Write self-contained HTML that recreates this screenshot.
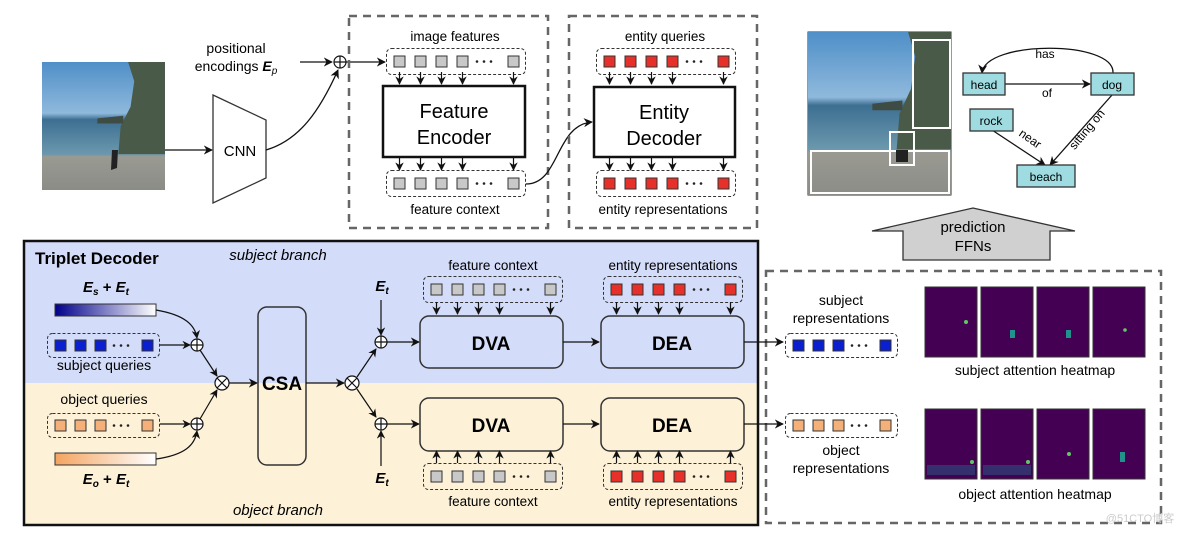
<!DOCTYPE html>
<html><head><meta charset="utf-8"><style>
html,body{margin:0;padding:0;background:#fff}
svg{display:block;font-family:"Liberation Sans",sans-serif}
</style></head><body>
<svg width="1184" height="533" viewBox="0 0 1184 533" xmlns="http://www.w3.org/2000/svg">
<defs>
<marker id="ar" viewBox="0 0 10 10" refX="9" refY="5" markerWidth="7" markerHeight="7" orient="auto-start-reverse"><path d="M0,0L10,5L0,10L3,5z" fill="#111"/></marker>
<linearGradient id="gb" x1="0" x2="1"><stop offset="0" stop-color="#00008b"/><stop offset="1" stop-color="#fff"/></linearGradient>
<linearGradient id="go" x1="0" x2="1"><stop offset="0" stop-color="#f4a460"/><stop offset="1" stop-color="#fff"/></linearGradient>
<linearGradient id="sky" x1="0" y1="0" x2="0" y2="1"><stop offset="0" stop-color="#4f8fc8"/><stop offset="0.4" stop-color="#8fb9dc"/><stop offset="0.45" stop-color="#3d6f92"/><stop offset="0.72" stop-color="#6b98ad"/><stop offset="0.74" stop-color="#9a9a92"/><stop offset="1" stop-color="#8a8c86"/></linearGradient>
<g id="sqG"><rect width="11" height="11" fill="#c8c8c8" stroke="#333"/></g>
<g id="sqR"><rect width="11" height="11" fill="#e8302a" stroke="#333"/></g>
<g id="sqB"><rect width="11" height="11" fill="#0a1fd0" stroke="#333"/></g>
<g id="sqO"><rect width="11" height="11" fill="#f5b07a" stroke="#333"/></g>
<g id="dots" fill="#222"><circle cx="0" cy="0" r="1.3"/><circle cx="7" cy="0" r="1.3"/><circle cx="14" cy="0" r="1.3"/></g>
<g id="rowG"><rect x="0.5" y="0.5" width="139" height="26" rx="5" fill="none" stroke="#333" stroke-dasharray="3,2"/><use href="#sqG" x="8" y="8"/><use href="#sqG" x="29" y="8"/><use href="#sqG" x="50" y="8"/><use href="#sqG" x="71" y="8"/><use href="#dots" x="91" y="13.5"/><use href="#sqG" x="122" y="8"/></g>
<g id="rowR"><rect x="0.5" y="0.5" width="139" height="26" rx="5" fill="none" stroke="#333" stroke-dasharray="3,2"/><use href="#sqR" x="8" y="8"/><use href="#sqR" x="29" y="8"/><use href="#sqR" x="50" y="8"/><use href="#sqR" x="71" y="8"/><use href="#dots" x="91" y="13.5"/><use href="#sqR" x="122" y="8"/></g>
<g id="rowB"><rect x="0.5" y="0.5" width="112" height="24" rx="5" fill="none" stroke="#333" stroke-dasharray="3,2"/><use href="#sqB" x="8" y="7"/><use href="#sqB" x="28" y="7"/><use href="#sqB" x="48" y="7"/><use href="#dots" x="67" y="12.5"/><use href="#sqB" x="95" y="7"/></g>
<g id="rowO"><rect x="0.5" y="0.5" width="112" height="24" rx="5" fill="none" stroke="#333" stroke-dasharray="3,2"/><use href="#sqO" x="8" y="7"/><use href="#sqO" x="28" y="7"/><use href="#sqO" x="48" y="7"/><use href="#dots" x="67" y="12.5"/><use href="#sqO" x="95" y="7"/></g>
<g id="dn" stroke="#111" stroke-width="1.2" marker-end="url(#ar)"><line x1="13.5" y1="0" x2="13.5" y2="12"/><line x1="34.5" y1="0" x2="34.5" y2="12"/><line x1="55.5" y1="0" x2="55.5" y2="12"/><line x1="76.5" y1="0" x2="76.5" y2="12"/><line x1="127.5" y1="0" x2="127.5" y2="12"/></g>
<g id="up" stroke="#111" stroke-width="1.2" marker-end="url(#ar)"><line x1="13.5" y1="12" x2="13.5" y2="0"/><line x1="34.5" y1="12" x2="34.5" y2="0"/><line x1="55.5" y1="12" x2="55.5" y2="0"/><line x1="76.5" y1="12" x2="76.5" y2="0"/><line x1="127.5" y1="12" x2="127.5" y2="0"/></g>
<g id="plus"><circle r="6" fill="#fff" stroke="#111" stroke-width="1.2"/><path d="M-6,0H6M0,-6V6" stroke="#111" stroke-width="1.2"/></g>
<g id="times"><circle r="7" fill="#fff" stroke="#111" stroke-width="1.2"/><path d="M-5,-5L5,5M-5,5L5,-5" stroke="#111" stroke-width="1.2"/></g>
<g id="photo"><rect width="100" height="100" fill="url(#sky)"/><path d="M70,0 L100,0 L100,72 L62,72 L64,50 L72,35 L75,15z" fill="#4a5a48"/><path d="M45,44 L66,42 L66,48 L45,48z" fill="#3e4c44"/></g>
<linearGradient id="hm" x1="0" y1="0" x2="0" y2="1"><stop offset="0" stop-color="#440154"/><stop offset="1" stop-color="#440154"/></linearGradient>
</defs>

<!-- top-left photo -->
<rect x="42" y="62" width="123" height="128" fill="#888"/>
<use href="#photo" transform="translate(42,62) scale(1.23,1.28)"/>
<path d="M112,150 L118,150 L117,168 L111,170z" fill="#222"/>
<line x1="165" y1="150" x2="212" y2="150" stroke="#111" stroke-width="1.3" marker-end="url(#ar)"/>
<path d="M213,95 L266,120 L266,178 L213,203z" fill="#fff" stroke="#333" stroke-width="1.3"/>
<text x="240" y="156" font-size="15" text-anchor="middle">CNN</text>
<text x="236" y="53" font-size="14" text-anchor="middle">positional</text>
<text x="236" y="71" font-size="14" text-anchor="middle">encodings <tspan font-weight="bold" font-style="italic">E</tspan><tspan font-style="italic" font-size="10" dy="3">p</tspan></text>
<line x1="300" y1="62" x2="332" y2="62" stroke="#111" stroke-width="1.3" marker-end="url(#ar)"/>
<path d="M266,150 C300,140 320,110 338,70" fill="none" stroke="#111" stroke-width="1.3" marker-end="url(#ar)"/>
<use href="#plus" x="340" y="62"/>
<line x1="346" y1="62" x2="385" y2="62" stroke="#111" stroke-width="1.3" marker-end="url(#ar)"/>

<!-- encoder box -->
<rect x="349" y="16" width="199" height="212" fill="none" stroke="#666" stroke-width="2.5" stroke-dasharray="8,6"/>
<text x="455" y="41" font-size="13.5" text-anchor="middle">image features</text>
<use href="#rowG" x="386" y="48"/>
<use href="#dn" x="386" y="72"/>
<rect x="383" y="86" width="142" height="71" fill="#fff" stroke="#111" stroke-width="2.5"/>
<text x="454" y="118" font-size="20" text-anchor="middle">Feature</text>
<text x="454" y="144" font-size="20" text-anchor="middle">Encoder</text>
<use href="#dn" x="386" y="158"/>
<use href="#rowG" x="386" y="170"/>
<text x="455" y="214" font-size="13.5" text-anchor="middle">feature context</text>
<path d="M526,184 C560,184 555,125 592,122" fill="none" stroke="#111" stroke-width="1.3" marker-end="url(#ar)"/>

<!-- decoder box -->
<rect x="569" y="16" width="188" height="212" fill="none" stroke="#666" stroke-width="2.5" stroke-dasharray="8,6"/>
<text x="665" y="41" font-size="13.5" text-anchor="middle">entity queries</text>
<use href="#rowR" x="596" y="48"/>
<use href="#dn" x="596" y="72"/>
<rect x="594" y="87" width="141" height="70" fill="#fff" stroke="#111" stroke-width="2.5"/>
<text x="664" y="119" font-size="20" text-anchor="middle">Entity</text>
<text x="664" y="145" font-size="20" text-anchor="middle">Decoder</text>
<use href="#dn" x="596" y="158"/>
<use href="#rowR" x="596" y="170"/>
<text x="663" y="214" font-size="13.5" text-anchor="middle">entity representations</text>

<!-- top right image and graph -->
<rect x="808" y="32" width="143" height="163" fill="#888" stroke="#333"/>
<use href="#photo" transform="translate(808,32) scale(1.43,1.63)"/>
<rect x="913" y="40" width="37" height="88" fill="none" stroke="#fff" stroke-width="2"/>
<rect x="811" y="151" width="138" height="42" fill="none" stroke="#fff" stroke-width="2"/>
<rect x="890" y="132" width="24" height="33" fill="none" stroke="#fff" stroke-width="2"/>
<path d="M896,150 L908,150 L908,162 L896,162z" fill="#222"/>
<path d="M982,73 C985,40 1115,40 1113,73" fill="none" stroke="#111" stroke-width="1.3" marker-start="url(#ar)"/>
<text x="1045" y="58" font-size="12" text-anchor="middle">has</text>
<line x1="1005" y1="84" x2="1090" y2="84" stroke="#111" stroke-width="1.3" marker-end="url(#ar)"/>
<text x="1047" y="97" font-size="12" text-anchor="middle">of</text>
<line x1="992" y1="130" x2="1045" y2="165" stroke="#111" stroke-width="1.3" marker-end="url(#ar)"/>
<line x1="1112" y1="95" x2="1050" y2="165" stroke="#111" stroke-width="1.3" marker-end="url(#ar)"/>
<text x="1028" y="142" font-size="12" text-anchor="middle" transform="rotate(35 1028 142)">near</text>
<text x="1090" y="132" font-size="12" text-anchor="middle" transform="rotate(-50 1090 132)">sitting on</text>
<rect x="963" y="73" width="42" height="22" fill="#9fdce2" stroke="#333" stroke-width="1.3"/><text x="984" y="89" font-size="12" text-anchor="middle">head</text>
<rect x="1091" y="73" width="43" height="22" fill="#9fdce2" stroke="#333" stroke-width="1.3"/><text x="1112" y="89" font-size="12" text-anchor="middle">dog</text>
<rect x="970" y="109" width="43" height="22" fill="#9fdce2" stroke="#333" stroke-width="1.3"/><text x="991" y="125" font-size="12" text-anchor="middle">rock</text>
<rect x="1017" y="165" width="58" height="22" fill="#9fdce2" stroke="#333" stroke-width="1.3"/><text x="1046" y="181" font-size="12" text-anchor="middle">beach</text>
<path d="M872,231 L973,208 L1075,231 L1050,231 L1050,260 L903,260 L903,231z" fill="#d0d0d0" stroke="#333" stroke-width="1.3"/>
<text x="973" y="232" font-size="15" text-anchor="middle">prediction</text>
<text x="973" y="251" font-size="15" text-anchor="middle">FFNs</text>

<!-- triplet decoder -->
<rect x="24" y="241" width="734" height="142" fill="#d3dcf8"/>
<rect x="24" y="383" width="734" height="142" fill="#fdf2d8"/>
<rect x="24" y="241" width="734" height="284" fill="none" stroke="#111" stroke-width="2.5"/>
<text x="35" y="264" font-size="17" font-weight="bold">Triplet Decoder</text>
<text x="278" y="260" font-size="15" font-style="italic" text-anchor="middle">subject branch</text>
<text x="278" y="515" font-size="15" font-style="italic" text-anchor="middle">object branch</text>
<text x="106" y="292" font-size="15" font-weight="bold" font-style="italic" text-anchor="middle">E<tspan font-size="10" dy="3">s</tspan><tspan dy="-3" font-style="normal"> + </tspan>E<tspan font-size="10" dy="3">t</tspan></text>
<rect x="55" y="304" width="101" height="12" fill="url(#gb)" stroke="#333"/>
<use href="#rowB" x="47" y="333"/>
<text x="104" y="370" font-size="14" text-anchor="middle">subject queries</text>
<text x="104" y="404" font-size="14" text-anchor="middle">object queries</text>
<use href="#rowO" x="47" y="413"/>
<rect x="55" y="453" width="101" height="12" fill="url(#go)" stroke="#333"/>
<text x="106" y="484" font-size="15" font-weight="bold" font-style="italic" text-anchor="middle">E<tspan font-size="10" dy="3">o</tspan><tspan dy="-3" font-style="normal"> + </tspan>E<tspan font-size="10" dy="3">t</tspan></text>
<path d="M156,310 C185,315 195,325 197,338" fill="none" stroke="#111" stroke-width="1.2" marker-end="url(#ar)"/>
<line x1="160" y1="345" x2="190" y2="345" stroke="#111" stroke-width="1.2" marker-end="url(#ar)"/>
<line x1="160" y1="424" x2="190" y2="424" stroke="#111" stroke-width="1.2" marker-end="url(#ar)"/>
<path d="M156,459 C185,455 195,445 197,431" fill="none" stroke="#111" stroke-width="1.2" marker-end="url(#ar)"/>
<line x1="200" y1="350" x2="217" y2="376" stroke="#111" stroke-width="1.2" marker-end="url(#ar)"/>
<line x1="200" y1="419" x2="217" y2="390" stroke="#111" stroke-width="1.2" marker-end="url(#ar)"/>
<use href="#plus" x="197" y="345"/>
<use href="#plus" x="197" y="424"/>
<use href="#times" x="222" y="383"/>
<line x1="229" y1="383" x2="257" y2="383" stroke="#111" stroke-width="1.3" marker-end="url(#ar)"/>
<rect x="258" y="307" width="48" height="158" rx="9" fill="none" stroke="#333" stroke-width="1.5"/>
<text x="282" y="390" font-size="19" font-weight="bold" text-anchor="middle">CSA</text>
<line x1="306" y1="383" x2="344" y2="383" stroke="#111" stroke-width="1.3" marker-end="url(#ar)"/>
<use href="#times" x="352" y="383"/>
<line x1="357" y1="377" x2="376" y2="349" stroke="#111" stroke-width="1.2" marker-end="url(#ar)"/>
<line x1="357" y1="389" x2="376" y2="417" stroke="#111" stroke-width="1.2" marker-end="url(#ar)"/>
<text x="382" y="291" font-size="15" font-weight="bold" font-style="italic" text-anchor="middle">E<tspan font-size="10" dy="3">t</tspan></text>
<text x="382" y="483" font-size="15" font-weight="bold" font-style="italic" text-anchor="middle">E<tspan font-size="10" dy="3">t</tspan></text>
<line x1="381" y1="300" x2="381" y2="335" stroke="#111" stroke-width="1.2" marker-end="url(#ar)"/>
<line x1="381" y1="466" x2="381" y2="431" stroke="#111" stroke-width="1.2" marker-end="url(#ar)"/>
<use href="#plus" x="381" y="342"/>
<use href="#plus" x="381" y="424"/>
<line x1="387" y1="342" x2="419" y2="342" stroke="#111" stroke-width="1.3" marker-end="url(#ar)"/>
<line x1="387" y1="424" x2="419" y2="424" stroke="#111" stroke-width="1.3" marker-end="url(#ar)"/>
<text x="493" y="270" font-size="13.5" text-anchor="middle">feature context</text>
<use href="#rowG" x="423" y="276"/>
<use href="#dn" x="423" y="302"/>
<rect x="420" y="316" width="143" height="52" rx="9" fill="none" stroke="#333" stroke-width="1.5"/>
<text x="491" y="350" font-size="19" font-weight="bold" text-anchor="middle">DVA</text>
<rect x="420" y="398" width="143" height="53" rx="9" fill="none" stroke="#333" stroke-width="1.5"/>
<text x="491" y="432" font-size="19" font-weight="bold" text-anchor="middle">DVA</text>
<use href="#up" x="423" y="451"/>
<use href="#rowG" x="423" y="463"/>
<text x="493" y="506" font-size="13.5" text-anchor="middle">feature context</text>
<line x1="563" y1="342" x2="599" y2="342" stroke="#111" stroke-width="1.3" marker-end="url(#ar)"/>
<line x1="563" y1="424" x2="599" y2="424" stroke="#111" stroke-width="1.3" marker-end="url(#ar)"/>
<text x="673" y="270" font-size="13.5" text-anchor="middle">entity representations</text>
<use href="#rowR" x="603" y="276"/>
<use href="#dn" x="603" y="302"/>
<rect x="601" y="316" width="143" height="52" rx="9" fill="none" stroke="#333" stroke-width="1.5"/>
<text x="672" y="350" font-size="19" font-weight="bold" text-anchor="middle">DEA</text>
<rect x="601" y="398" width="143" height="53" rx="9" fill="none" stroke="#333" stroke-width="1.5"/>
<text x="672" y="432" font-size="19" font-weight="bold" text-anchor="middle">DEA</text>
<use href="#up" x="603" y="451"/>
<use href="#rowR" x="603" y="463"/>
<text x="673" y="506" font-size="13.5" text-anchor="middle">entity representations</text>

<!-- right dashed box -->
<rect x="766" y="271" width="395" height="252" fill="none" stroke="#666" stroke-width="2.5" stroke-dasharray="8,6"/>
<line x1="744" y1="342" x2="783" y2="342" stroke="#111" stroke-width="1.3" marker-end="url(#ar)"/>
<line x1="744" y1="424" x2="783" y2="424" stroke="#111" stroke-width="1.3" marker-end="url(#ar)"/>
<text x="841" y="305" font-size="14" text-anchor="middle">subject</text>
<text x="841" y="323" font-size="14" text-anchor="middle">representations</text>
<use href="#rowB" x="785" y="333"/>
<use href="#rowO" x="785" y="413"/>
<text x="841" y="455" font-size="14" text-anchor="middle">object</text>
<text x="841" y="473" font-size="14" text-anchor="middle">representations</text>
<g stroke="#333" stroke-width="1" fill="#440154">
<rect x="925" y="287" width="52" height="70"/><rect x="981" y="287" width="52" height="70"/><rect x="1037" y="287" width="52" height="70"/><rect x="1093" y="287" width="52" height="70"/>
<rect x="925" y="409" width="52" height="70"/><rect x="981" y="409" width="52" height="70"/><rect x="1037" y="409" width="52" height="70"/><rect x="1093" y="409" width="52" height="70"/>
</g>
<g fill="#5ec962"><circle cx="966" cy="322" r="2"/><rect x="1010" y="330" width="5" height="8" fill="#21918c"/><rect x="1066" y="330" width="5" height="8" fill="#21918c"/><circle cx="1125" cy="330" r="1.8"/>
<circle cx="972" cy="462" r="2"/><circle cx="1028" cy="462" r="2"/><circle cx="1069" cy="454" r="2"/><rect x="1120" y="452" width="5" height="10" fill="#21918c"/>
<rect x="927" y="465" width="48" height="10" fill="#2c4f80" opacity="0.6"/><rect x="983" y="465" width="48" height="10" fill="#2c4f80" opacity="0.6"/></g>
<text x="1035" y="375" font-size="14" text-anchor="middle">subject attention heatmap</text>
<text x="1035" y="499" font-size="14" text-anchor="middle">object attention heatmap</text>
<text x="1140" y="522" font-size="11" fill="#ccc" text-anchor="middle">@51CTO博客</text>
</svg>
</body></html>
